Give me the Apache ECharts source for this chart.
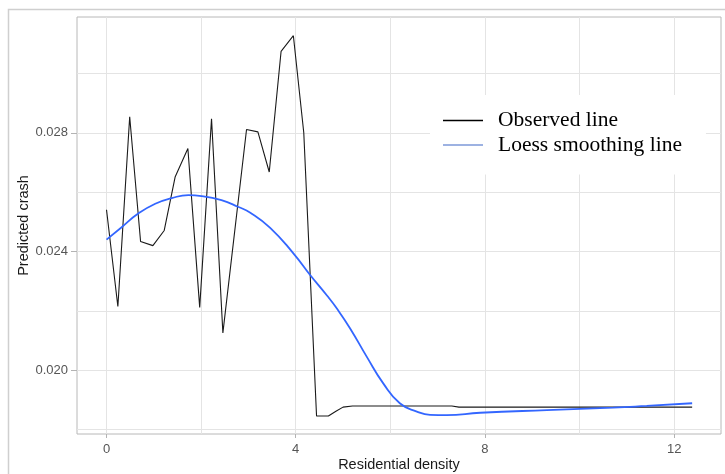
<!DOCTYPE html>
<html>
<head>
    <meta http-equiv="Content-Type" content="text/html; charset=utf-8"/>
    <script src="https://cdn.jsdelivr.net/npm/echarts@6/dist/echarts.min.js"></script>
    <style>
        html, body {margin: 0; padding: 0; background: #fff;}
    </style>
</head>
<body>

<div id="chart" style="width: 725px; height: 474px;"></div>

<script type="text/javascript">
    // observed line (black)
    var obsX = [0, 0.24, 0.49, 0.72, 0.98, 1.22, 1.45, 1.72, 1.97, 2.22, 2.46, 2.96, 3.2, 3.44, 3.69, 3.95,
        4.17, 4.44, 4.69, 4.85, 5.0, 5.2, 7.3, 7.45, 12.38];
    var obsY = [0.02541, 0.02215, 0.02854, 0.02434, 0.0242, 0.02471, 0.02651, 0.02747, 0.02212, 0.02847, 0.02126,
        0.02811, 0.02803, 0.02668, 0.03074, 0.03127, 0.0280, 0.01846, 0.01846, 0.01862, 0.01876, 0.0188,
        0.0188, 0.01876, 0.01876];

    // loess smoothing line (blue)
    var loessX = [0, 0.32, 0.67, 1.03, 1.38, 1.73, 2.01, 2.43, 2.79, 3.04, 3.46, 3.95, 4.30, 4.66, 4.87, 5.15,
        5.50, 5.85, 6.2, 6.56, 6.84, 7.19, 7.9, 9.31, 10.71, 11.42, 12.38];
    var loessY = [0.0244, 0.02482, 0.02528, 0.02561, 0.0258, 0.0259, 0.02587, 0.02573, 0.0255, 0.02531, 0.0248,
        0.02394, 0.02322, 0.02252, 0.02208, 0.02141, 0.02046, 0.01956, 0.01889, 0.01861, 0.0185, 0.01849,
        0.01857, 0.01866, 0.01874, 0.0188, 0.01889];

    // ticks / grid lines
    var xGrid = [0, 2, 4, 6, 8, 10, 12];
    var xLabels = [0, 4, 8, 12];
    var yGrid = [0.018, 0.020, 0.022, 0.024, 0.026, 0.028, 0.030];
    var yLabels = [0.020, 0.024, 0.028];

    var xMin = -0.624, xMax = 12.99;
    var yMin = 0.017855, yMax = 0.0319;

    function zip(a, b) {
        var out = [];
        for (var i = 0; i < a.length; i++) {
            out.push([a[i], b[i]]);
        }
        return out;
    }

    var chart = echarts.init(document.getElementById('chart'));
    var gridColor = '#e4e4e4';
    var tickColor = '#b3b3b3';
    var labelStyle = {color: '#555', fontSize: 13, fontFamily: 'Liberation Sans'};

    var option = {
        animation: false,
        backgroundColor: '#fff',
        grid: {
            left: 77, right: 4, top: 17, bottom: 40,
            outerBoundsMode: 'none',
            containLabel: false,
            show: true,
            borderColor: '#b8b8b8',
            borderWidth: 1
        },
        graphic: [{
            // outer frame of the picture
            type: 'rect',
            shape: {x: 8.5, y: 9.5, width: 800, height: 600},
            style: {fill: null, stroke: '#cfcfcf', lineWidth: 1.5},
            silent: true,
            z: -1
        }],
        legend: {
            orient: 'vertical',
            left: 430,
            top: 95,
            padding: [14, 24, 18, 13],
            backgroundColor: '#fff',
            icon: 'rect',
            itemWidth: 40,
            itemHeight: 1.3,
            itemGap: 1.5,
            textStyle: {
                fontFamily: 'Liberation Serif',
                fontSize: 21.5,
                lineHeight: 23,
                color: '#000',
                padding: [0, 0, 0, 10]
            },
            data: [
                {name: 'Observed line', itemStyle: {color: '#000'}},
                {name: 'Loess smoothing line', itemStyle: {color: '#7d98d8'}}
            ]
        },
        xAxis: [{
            type: 'value',
            min: xMin,
            max: xMax,
            name: 'Residential density',
            nameLocation: 'middle',
            nameGap: 23,
            nameMoveOverlap: false,
            nameTextStyle: {color: '#1a1a1a', fontSize: 14.5, fontFamily: 'Liberation Sans'},
            axisLine: {show: false, onZero: false},
            axisTick: {show: false, customValues: xGrid},
            axisLabel: Object.assign({customValues: xLabels, margin: 9}, labelStyle),
            splitLine: {show: true, lineStyle: {color: gridColor, width: 1}}
        }, {
            type: 'value',
            min: xMin,
            max: xMax,
            position: 'bottom',
            offset: 0,
            axisLine: {show: false, onZero: false},
            axisTick: {show: true, customValues: xLabels, length: 4, lineStyle: {color: tickColor}},
            axisLabel: {show: false},
            splitLine: {show: false}
        }],
        yAxis: [{
            type: 'value',
            min: yMin,
            max: yMax,
            name: 'Predicted crash',
            nameLocation: 'middle',
            nameGap: 46,
            nameMoveOverlap: false,
            nameTextStyle: {color: '#1a1a1a', fontSize: 14.5, fontFamily: 'Liberation Sans'},
            axisLine: {show: false, onZero: false},
            axisTick: {show: false, customValues: yGrid},
            axisLabel: Object.assign({
                customValues: yLabels,
                margin: 9,
                formatter: function (v) { return v.toFixed(3); }
            }, labelStyle),
            splitLine: {show: true, lineStyle: {color: gridColor, width: 1}}
        }, {
            type: 'value',
            min: yMin,
            max: yMax,
            position: 'left',
            offset: 0,
            axisLine: {show: false, onZero: false},
            axisTick: {show: true, customValues: yLabels, length: 6, lineStyle: {color: tickColor}},
            axisLabel: {show: false},
            splitLine: {show: false}
        }],
        series: [{
            name: 'Observed line',
            type: 'line',
            xAxisIndex: 0,
            yAxisIndex: 0,
            data: zip(obsX, obsY),
            symbol: 'none',
            lineStyle: {color: '#1a1a1a', width: 1.1},
            itemStyle: {color: '#000'},
            z: 3
        }, {
            name: 'Loess smoothing line',
            type: 'line',
            xAxisIndex: 0,
            yAxisIndex: 0,
            data: zip(loessX, loessY),
            symbol: 'none',
            smooth: 0.5,
            lineStyle: {color: '#3366ff', width: 1.8},
            itemStyle: {color: '#3366ff'},
            z: 4
        }]
    };

    chart.setOption(option);
</script>

</body>
</html>
